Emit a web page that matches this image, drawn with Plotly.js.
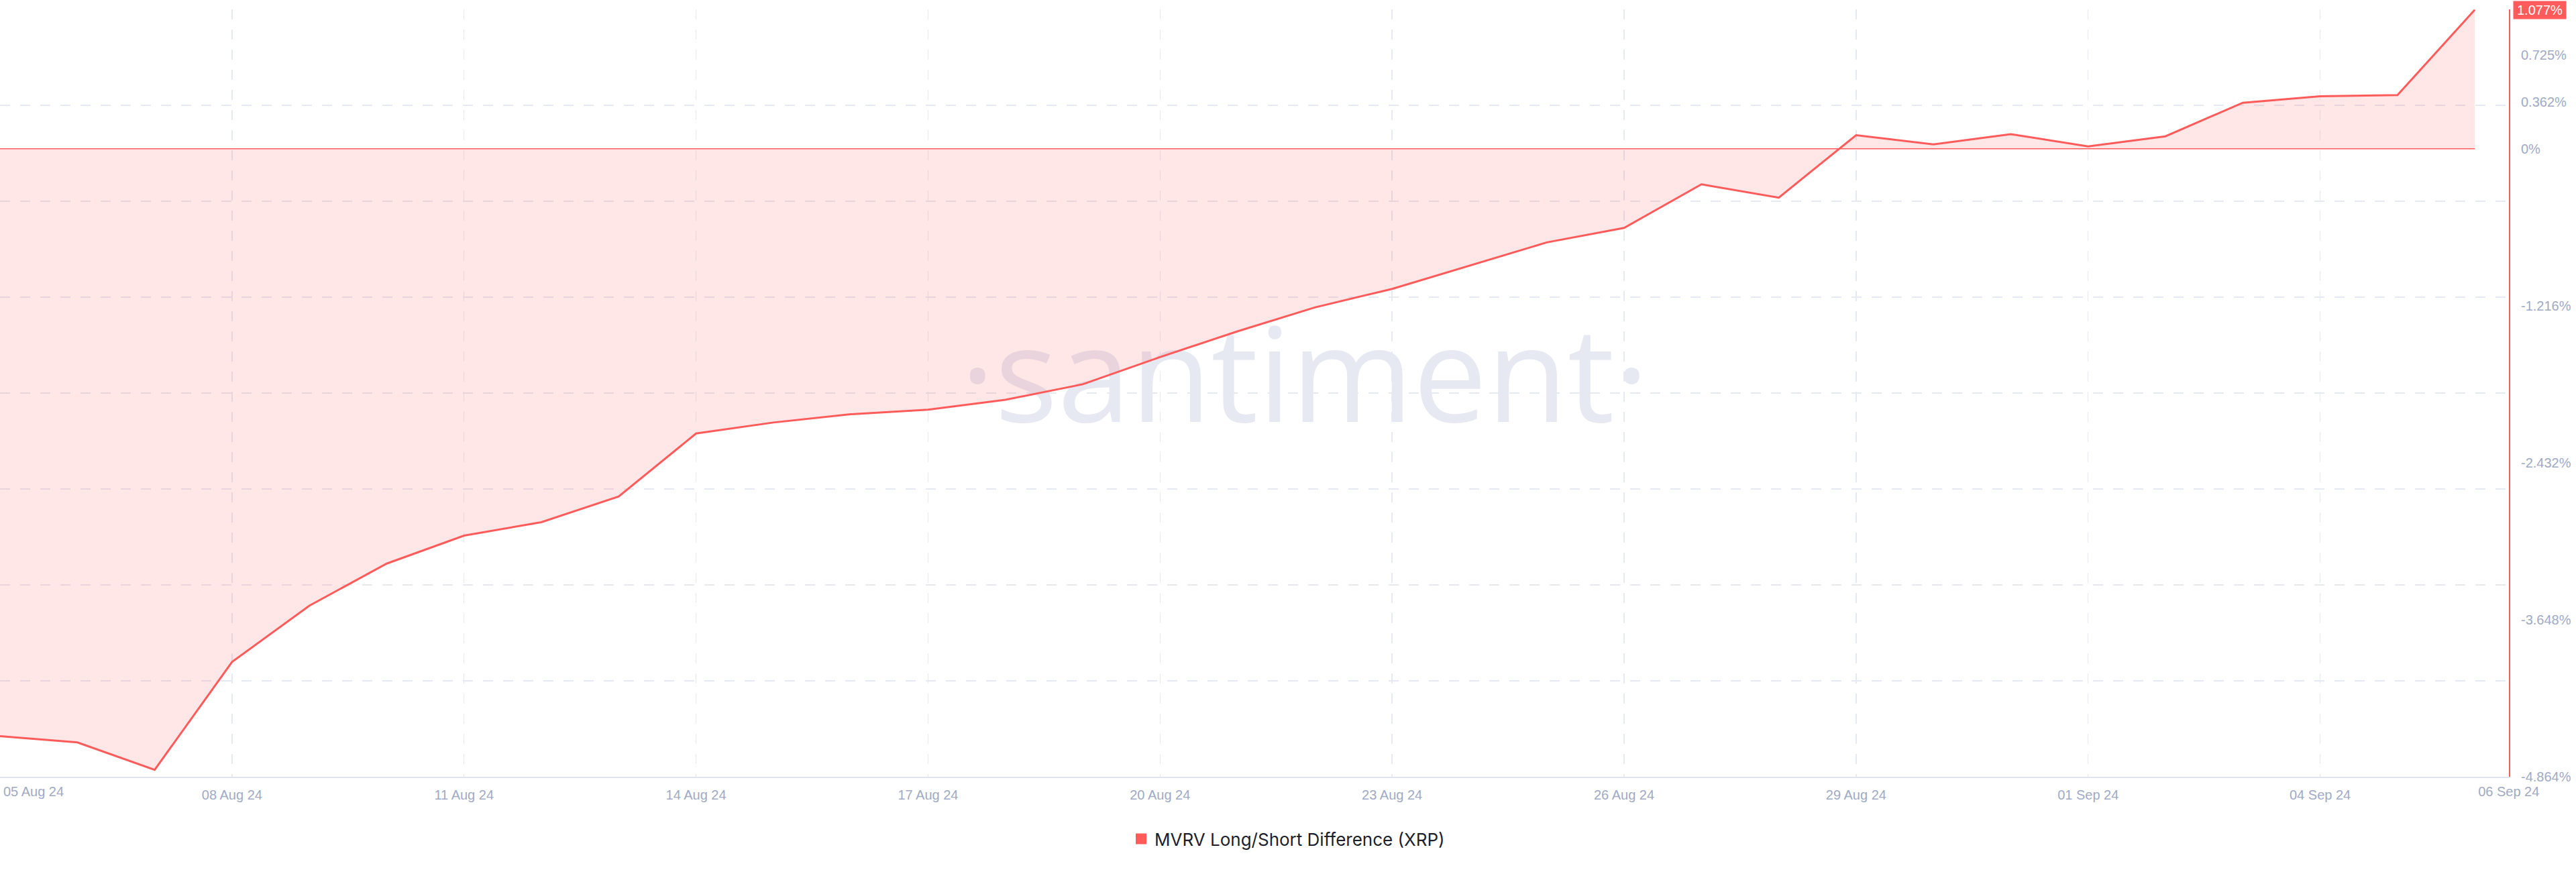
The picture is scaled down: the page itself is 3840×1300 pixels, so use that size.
<!DOCTYPE html>
<html>
<head>
<meta charset="utf-8">
<script src="https://cdn.plot.ly/plotly-3.0.1.min.js"></script>
<style>
html, body { margin: 0; padding: 0; background: #ffffff; }
#chart { width: 3840px; height: 1300px; }
</style>
</head>
<body>
<div id="chart"></div>
<script>
// ---- data ----
const dates = [
  '2024-08-05','2024-08-06','2024-08-07','2024-08-08','2024-08-09','2024-08-10','2024-08-11',
  '2024-08-12','2024-08-13','2024-08-14','2024-08-15','2024-08-16','2024-08-17','2024-08-18',
  '2024-08-19','2024-08-20','2024-08-21','2024-08-22','2024-08-23','2024-08-24','2024-08-25',
  '2024-08-26','2024-08-27','2024-08-28','2024-08-29','2024-08-30','2024-08-31','2024-09-01',
  '2024-09-02','2024-09-03','2024-09-04','2024-09-05','2024-09-06'
];
const mvrvDiff = [
  -4.550, -4.598, -4.810, -3.975, -3.539, -3.213, -2.996,
  -2.892, -2.693, -2.205, -2.120, -2.056, -2.020, -1.944,
  -1.824, -1.613, -1.414, -1.229, -1.085, -0.905, -0.725,
  -0.613, -0.275, -0.378, 0.106, 0.035, 0.114, 0.019,
  0.097, 0.357, 0.407, 0.416, 1.077
];
const seriesName = 'MVRV Long/Short Difference (XRP)';

const xTickVals = ['2024-08-05','2024-08-08','2024-08-11','2024-08-14','2024-08-17','2024-08-20',
                   '2024-08-23','2024-08-26','2024-08-29','2024-09-01','2024-09-04'];
const xTickText = ['05 Aug 24','08 Aug 24','11 Aug 24','14 Aug 24','17 Aug 24','20 Aug 24',
                   '23 Aug 24','26 Aug 24','29 Aug 24','01 Sep 24','04 Sep 24'];
const xEdgeTickVals = ['2024-08-05','2024-09-06'];
const xEdgeTickText = ['05 Aug 24','06 Sep 24'];

const yTickVals = [0.725, 0.362, 0, -1.216, -2.432, -3.648, -4.864];
const yTickText = ['0.725%','0.362%','0%','-1.216%','-2.432%','-3.648%','-4.864%'];

const watermarkText = '\u00B7santiment\u00B7';

// ---- styling ----
const RED = '#ff5b5b';
const GRID = '#e7e9f2';
const LABEL = '#9faac4';
const TICKFONT = 'Liberation Sans, Arial, sans-serif';
const xRange = ['2024-08-05 00:00', '2024-09-06 10:35'];
const yRange = [-4.864, 1.08];
const gridVals = Array.from({length: 9}, (_, i) => yRange[0] + i * (yRange[1] - yRange[0]) / 8);

const t0 = new Date(xRange[0].replace(' ', 'T') + ':00Z').getTime();
const t1 = new Date(xRange[1].replace(' ', 'T') + ':00Z').getTime();
const wmX = new Date(t0 + 0.52 * (t1 - t0)).toISOString().slice(0, 19).replace('T', ' ');
const wmY = yRange[0] + 0.505 * (yRange[1] - yRange[0]);
const lastVal = mvrvDiff[mvrvDiff.length - 1];

const traces = [
  {
    type: 'scatter', mode: 'text', x: [wmX], y: [wmY], text: [watermarkText],
    textposition: 'middle center',
    textfont: {family: 'Open Sans, sans-serif', size: 196, color: '#e6e8f2'},
    hoverinfo: 'skip', showlegend: false, cliponaxis: false
  },
  {
    type: 'scatter', mode: 'lines', x: dates, y: mvrvDiff, fill: 'tozeroy',
    fillcolor: 'rgba(255,91,91,0.15)', line: {color: RED, width: 3},
    hoverinfo: 'skip', showlegend: false
  },
  {
    type: 'scatter', mode: 'lines', x: dates, y: dates.map(() => 0),
    line: {color: RED, width: 1.5}, hoverinfo: 'skip', showlegend: false
  },
  {
    type: 'scatter', mode: 'lines', x: dates, y: mvrvDiff, xaxis: 'x2', yaxis: 'y',
    opacity: 0, hoverinfo: 'skip', showlegend: false
  },
  {
    type: 'scatter', mode: 'lines', x: dates, y: mvrvDiff, xaxis: 'x', yaxis: 'y2',
    opacity: 0, hoverinfo: 'skip', showlegend: false
  },
  {
    type: 'scatter', mode: 'markers', x: [null], y: [null], name: seriesName,
    marker: {symbol: 'square', size: 18, color: RED}, hoverinfo: 'skip', showlegend: true
  }
];

const tickfont = {family: TICKFONT, size: 20, color: LABEL};

const layout = {
  width: 3840, height: 1300,
  margin: {l: 0, r: 100, t: 14, b: 142, pad: 0},
  paper_bgcolor: '#ffffff', plot_bgcolor: '#ffffff',
  showlegend: true,
  hovermode: false,
  legend: {
    orientation: 'h', xref: 'container', yref: 'container',
    x: 0.5, xanchor: 'center', y: 0.038, yanchor: 'middle',
    font: {family: 'Inter, Lato, sans-serif', size: 26, color: '#1b1f2e'},
    bgcolor: 'rgba(0,0,0,0)'
  },
  xaxis: {
    type: 'date', range: xRange, tickvals: xTickVals,
    ticktext: xTickText.map((t, i) => i === 0 ? '' : t),
    showgrid: true, gridcolor: GRID, griddash: '15px,15px', gridwidth: 1.5,
    showline: true, linecolor: '#e1e5ef', linewidth: 2,
    ticks: '', tickfont: tickfont, ticklabelstandoff: 8, zeroline: false, fixedrange: true
  },
  xaxis2: {
    type: 'date', overlaying: 'x', anchor: 'y', side: 'bottom', range: xRange,
    tickvals: xEdgeTickVals, ticktext: xEdgeTickText, ticklabelposition: 'outside right',
    ticklabelshift: 5,
    showgrid: false, showline: false, ticks: '', tickfont: tickfont, ticklabelstandoff: 8,
    zeroline: false, fixedrange: true
  },
  yaxis: {
    range: yRange, tickvals: gridVals, showticklabels: false,
    showgrid: true, gridcolor: GRID, griddash: '15px,15px', gridwidth: 1.5,
    zeroline: false, showline: false, ticks: '', fixedrange: true
  },
  yaxis2: {
    range: yRange, overlaying: 'y', side: 'right', anchor: 'x',
    tickvals: yTickVals, ticktext: yTickText,
    showgrid: false, zeroline: false, showline: true, linecolor: RED, linewidth: 2,
    ticks: '', tickfont: tickfont, ticklabelstandoff: 12, fixedrange: true
  },
  annotations: [{
    xref: 'paper', x: 1, xanchor: 'left', xshift: 6,
    yref: 'y', y: lastVal, yanchor: 'middle',
    text: lastVal.toFixed(3) + '%', showarrow: false,
    bgcolor: RED, borderpad: 3, width: 72, height: 20,
    font: {family: TICKFONT, size: 20, color: '#ffffff'}
  }]
};

Plotly.newPlot('chart', traces, layout, {displayModeBar: false, staticPlot: true});
</script>
</body>
</html>
